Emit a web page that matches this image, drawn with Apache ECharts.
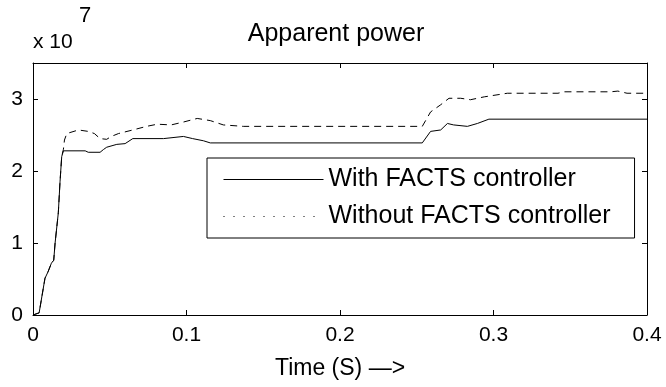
<!DOCTYPE html>
<html>
<head>
<meta charset="utf-8">
<style>
  html, body { margin: 0; padding: 0; background: #fff; }
  #chart { width: 666px; height: 387px; }
</style>
</head>
<body>
<div id="chart"></div>
<script src="https://cdn.jsdelivr.net/npm/echarts@6/dist/echarts.min.js"></script>
<script type="text/javascript">
    // apparent power, in units of 1e7
    var timeWith = [0, 0.004, 0.0078, 0.0098, 0.012, 0.0135, 0.0144, 0.0165, 0.0176, 0.0187, 0.0198,
        0.034, 0.036, 0.0437, 0.046, 0.048, 0.0546, 0.060, 0.065, 0.085, 0.098, 0.104, 0.111, 0.1155,
        0.2536, 0.259, 0.2656, 0.27, 0.274, 0.283, 0.2895, 0.297, 0.4];
    var powerWith = [0, 0.03, 0.51, 0.6, 0.72, 0.76, 1.0, 1.42, 1.85, 2.2, 2.28,
        2.28, 2.26, 2.26, 2.30, 2.33, 2.37, 2.38, 2.45, 2.45, 2.48, 2.45, 2.42, 2.39,
        2.39, 2.55, 2.57, 2.66, 2.64, 2.62, 2.66, 2.72, 2.72];

    var timeWithout = [0, 0.004, 0.0078, 0.0098, 0.012, 0.0135, 0.0144, 0.0165, 0.0176, 0.0187, 0.0198,
        0.0205, 0.022, 0.0296, 0.036, 0.040, 0.0437, 0.048, 0.051, 0.0557, 0.065, 0.074, 0.081, 0.09,
        0.098, 0.107, 0.1155, 0.124, 0.137, 0.2536, 0.259, 0.2656, 0.271, 0.2786, 0.285, 0.294,
        0.309, 0.342, 0.346, 0.3765, 0.381, 0.387, 0.4];
    var powerWithout = [0, 0.03, 0.51, 0.6, 0.72, 0.76, 1.0, 1.42, 1.85, 2.2, 2.3,
        2.43, 2.52, 2.57, 2.55, 2.52, 2.45, 2.44, 2.48, 2.52, 2.57, 2.62, 2.65, 2.64,
        2.68, 2.73, 2.70, 2.64, 2.62, 2.62, 2.82, 2.92, 3.01, 3.01, 2.99, 3.03,
        3.08, 3.08, 3.10, 3.10, 3.11, 3.08, 3.08];

    var seriesNames = ['With FACTS controller', 'Without FACTS controller'];
    var xTicks = { min: 0, max: 0.4, interval: 0.1 };
    var yTicks = { min: 0, max: 3.5, interval: 1 };

    function pairs(xs, ys) {
        var out = [];
        for (var i = 0; i < xs.length; i++) out.push([xs[i], ys[i]]);
        return out;
    }

    var fontFamily = 'Liberation Sans, Arial, sans-serif';
    var boxAxis = {
        axisLine: { show: true, onZero: false, lineStyle: { color: '#000', width: 1 } },
        axisTick: { show: true, inside: true, length: 5, lineStyle: { color: '#000' } },
        splitLine: { show: false }
    };

    var myChart = echarts.init(document.getElementById('chart'));

    var option = {
        animation: false,
        backgroundColor: '#fff',
        title: {
            text: 'Apparent power',
            left: 336,
            top: 22,
            padding: 0,
            textAlign: 'center',
            textStyle: { color: '#000', fontWeight: 'normal', fontSize: 25, fontFamily: fontFamily }
        },
        graphic: [
            { type: 'text', left: 33, top: 32, style: { text: 'x 10', fill: '#000', font: '21px ' + fontFamily } },
            { type: 'text', left: 79, top: 5, style: { text: '7', fill: '#000', font: '22px ' + fontFamily } }
        ],
        grid: { left: 33, right: 19, top: 63, bottom: 72 },
        legend: {
            orient: 'vertical',
            left: 207,
            top: 158,
            backgroundColor: '#fff',
            borderColor: '#000',
            borderWidth: 1,
            borderRadius: 0,
            padding: [9, 24, 9, 16],
            itemGap: 12,
            itemWidth: 100,
            itemHeight: 14,
            itemStyle: { opacity: 0 },
            textStyle: { color: '#000', fontSize: 25, fontFamily: fontFamily },
            data: [
                { name: seriesNames[0], lineStyle: { type: 'solid', width: 1, color: '#000' } },
                { name: seriesNames[1], lineStyle: { type: [1, 9], width: 1, color: '#000' } }
            ]
        },
        xAxis: [
            Object.assign({
                type: 'value',
                position: 'bottom',
                min: xTicks.min, max: xTicks.max, interval: xTicks.interval,
                name: 'Time (S) \u2014>',
                nameLocation: 'middle',
                nameGap: 42,
                nameTextStyle: { color: '#000', fontSize: 23, fontFamily: fontFamily },
                axisLabel: { color: '#000', fontSize: 21, fontFamily: fontFamily, margin: 10 }
            }, boxAxis),
            Object.assign({
                type: 'value',
                position: 'top',
                min: xTicks.min, max: xTicks.max, interval: xTicks.interval,
                axisLabel: { show: false }
            }, boxAxis)
        ],
        yAxis: [
            Object.assign({
                type: 'value',
                position: 'left',
                min: yTicks.min, max: yTicks.max, interval: yTicks.interval,
                axisLabel: {
                    color: '#000', fontSize: 21, fontFamily: fontFamily, margin: 10,
                    formatter: function (v) { return v % 1 === 0 ? String(v) : ''; }
                }
            }, boxAxis),
            Object.assign({
                type: 'value',
                position: 'right',
                min: yTicks.min, max: yTicks.max, interval: yTicks.interval,
                axisLabel: { show: false }
            }, boxAxis)
        ],
        series: [
            {
                name: seriesNames[0],
                type: 'line',
                symbol: 'none',
                data: pairs(timeWith, powerWith),
                lineStyle: { color: '#000', width: 1, type: 'solid' },
                itemStyle: { color: '#000' },
                z: 3
            },
            {
                name: seriesNames[1],
                type: 'line',
                symbol: 'none',
                data: pairs(timeWithout, powerWithout),
                lineStyle: { color: '#000', width: 1, type: [7, 5] },
                itemStyle: { color: '#000' },
                z: 2
            }
        ]
    };

    myChart.setOption(option);
</script>
</body>
</html>
